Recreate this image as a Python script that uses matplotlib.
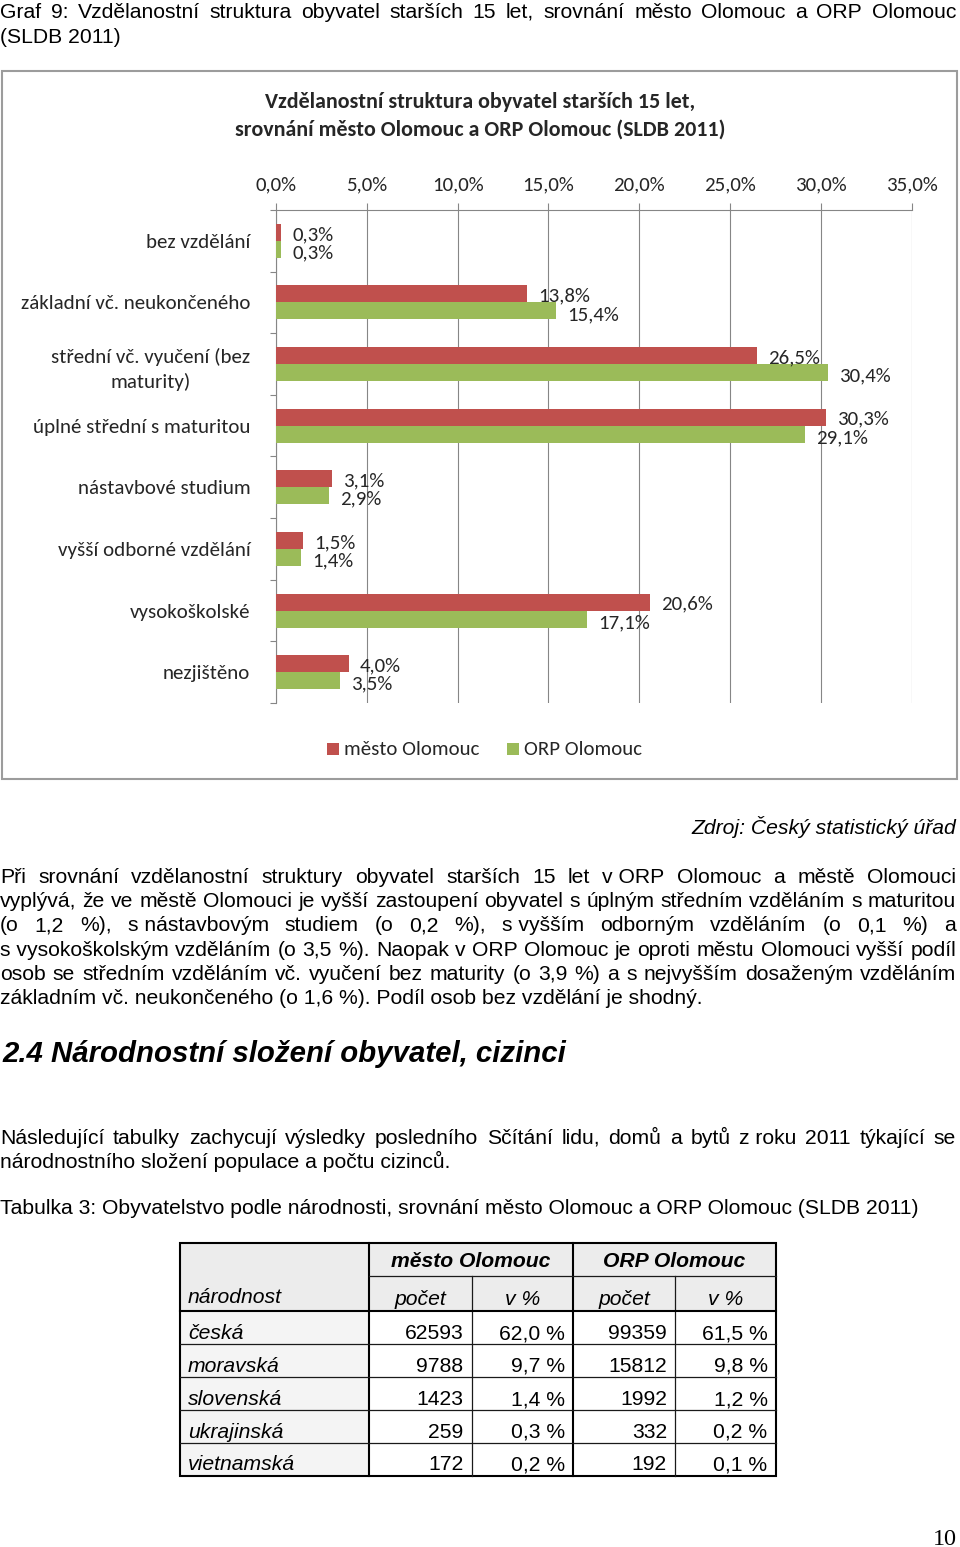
import matplotlib
matplotlib.use("Agg")
import matplotlib.pyplot as plt
from matplotlib.font_manager import FontProperties, fontManager
from matplotlib.patches import Rectangle
import numpy as np

# ---------------- data ----------------
categories = ["bez vzdělání", "základní vč. neukončeného",
              "střední vč. vyučení (bez\nmaturity)", "úplné střední s maturitou",
              "nástavbové studium", "vyšší odborné vzdělání",
              "vysokoškolské", "nezjištěno"]
mesto = [0.3, 13.8, 26.5, 30.3, 3.1, 1.5, 20.6, 4.0]
orp = [0.3, 15.4, 30.4, 29.1, 2.9, 1.4, 17.1, 3.5]
series_names = ["město Olomouc", "ORP Olomouc"]
x_ticks = [0, 5, 10, 15, 20, 25, 30, 35]

nat_names = ["česká", "moravská", "slovenská", "ukrajinská", "vietnamská"]
mesto_pocet = [62593, 9788, 1423, 259, 172]
mesto_pct = [62.0, 9.7, 1.4, 0.3, 0.2]
orp_pocet = [99359, 15812, 1992, 332, 192]
orp_pct = [61.5, 9.8, 1.2, 0.2, 0.1]

chart_title = ["Vzdělanostní struktura obyvatel starších 15 let,",
               "srovnání město Olomouc a ORP Olomouc (SLDB 2011)"]

# ---------------- setup ----------------
W, H = 960, 1547
fig = plt.figure(figsize=(W / 100, H / 100), dpi=100)
renderer = fig.canvas.get_renderer()
names = {f.name for f in fontManager.ttflist}
CF = "Carlito" if "Carlito" in names else "Lato"
BF = "Liberation Sans"
SF = "Liberation Serif"

RED = "#C0504D"
GREEN = "#9BBB59"
GRID = "#868686"
TXT = "#262626"


def fprop(family, size=20, weight="normal", style="normal"):
    return FontProperties(family=family, size=size, weight=weight, style=style)


def wpx(s, prop):
    w, h, d = renderer.get_text_width_height_descent(s, prop, ismath=False)
    return w


def fit(s, target, family, weight="normal", style="normal"):
    return 20 * target / wpx(s, fprop(family, 20, weight, style))


page = fig.add_axes([0, 0, 1, 1])
page.set_xlim(0, W)
page.set_ylim(H, 0)
page.axis("off")

# font sizes fitted to reference text widths
s_body = fit("Tabulka 3: Obyvatelstvo podle národnosti, srovnání město Olomouc a ORP Olomouc (SLDB 2011)", 920, BF)
s_head = fit("2.4 Národnostní složení obyvatel, cizinci", 564, BF, "bold", "italic")
s_title = fit(chart_title[0], 430, CF, "bold")
s_cat = fit("základní vč. neukončeného", 230, CF)
s_tick = fit("0,0%", 41.3, CF)
s_leg = fit("město Olomouc", 135, CF)
s_num = fit("10", 24, SF)


def line(y, text, x0=0, x1=956, justify=True, size=None, family=BF, style="normal", weight="normal"):
    size = size or s_body
    prop = fprop(family, size, weight, style)
    if not justify:
        page.text(x0, y, text, fontproperties=prop, ha="left", va="baseline", color="black")
        return
    words = text.split(" ")
    ws = [wpx(w, prop) for w in words]
    gap = (x1 - x0 - sum(ws)) / (len(words) - 1)
    x = x0
    for w, ww in zip(words, ws):
        page.text(x, y, w, fontproperties=prop, ha="left", va="baseline", color="black")
        x += ww + gap


# ---------------- page text ----------------
line(18, "Graf 9: Vzdělanostní struktura obyvatel starších 15 let, srovnání město Olomouc a ORP Olomouc")
line(43, "(SLDB 2011)", justify=False)

page.text(956, 834, "Zdroj: Český statistický úřad", fontproperties=fprop(BF, s_body, style="italic"),
          ha="right", va="baseline", color="black")

para = ["Při srovnání vzdělanostní struktury obyvatel starších 15 let v\u00a0ORP Olomouc a městě Olomouci",
        "vyplývá, že ve městě Olomouci je vyšší zastoupení obyvatel s úplným středním vzděláním s maturitou",
        "(o 1,2 %), s\u00a0nástavbovým studiem (o 0,2 %), s\u00a0vyšším odborným vzděláním (o 0,1 %) a",
        "s\u00a0vysokoškolským vzděláním (o 3,5 %). Naopak v ORP Olomouc je oproti městu Olomouci vyšší podíl",
        "osob se středním vzděláním vč. vyučení bez maturity (o 3,9 %) a s nejvyšším dosaženým vzděláním",
        "základním vč. neukončeného (o 1,6 %). Podíl osob bez vzdělání je shodný."]
for i, t in enumerate(para):
    line(883 + i * 24.2, t, justify=(i < len(para) - 1))

page.text(2, 1062, "2.4 Národnostní složení obyvatel, cizinci",
          fontproperties=fprop(BF, s_head, "bold", "italic"), ha="left", va="baseline", color="black")

line(1144, "Následující tabulky zachycují výsledky posledního Sčítání lidu, domů a bytů z\u00a0roku 2011 týkající se")
line(1168, "národnostního složení populace a počtu cizinců.", justify=False)
line(1214, "Tabulka 3: Obyvatelstvo podle národnosti, srovnání město Olomouc a ORP Olomouc (SLDB 2011)", justify=False)

page.text(945, 1545, "10", fontproperties=fprop(SF, s_num), ha="center", va="baseline", color="black")

# ---------------- chart frame, title, legend ----------------
page.add_patch(Rectangle((2, 71), 955, 708, fill=False, ec="#9c9c9c", lw=1.5))
page.text(480, 101.7, chart_title[0], fontproperties=fprop(CF, s_title, "bold"),
          ha="center", va="center", color=TXT)
page.text(480, 130, chart_title[1], fontproperties=fprop(CF, s_title, "bold"),
          ha="center", va="center", color=TXT)

for (sx, tx), col, name in zip([(327, 344), (507, 524)], [RED, GREEN], series_names):
    page.add_patch(Rectangle((sx, 743), 12, 12, color=col, lw=0))
    page.text(tx, 749.5, name, fontproperties=fprop(CF, s_leg), ha="left", va="center", color=TXT)

# ---------------- chart axes ----------------
ax_l, ax_r, ax_t, ax_b = 276, 911.7, 210, 703
ax = fig.add_axes([ax_l / W, 1 - ax_b / H, (ax_r - ax_l) / W, (ax_b - ax_t) / H])
ax.set_xlim(0, 35)
n = len(categories)
ax.set_ylim(n - 0.5, -0.5)
pos = np.arange(n)
bh = 0.276
ax.barh(pos - bh / 2, mesto, height=bh, color=RED, zorder=3)
ax.barh(pos + bh / 2, orp, height=bh, color=GREEN, zorder=3)

ax.set_axisbelow(True)
ax.xaxis.tick_top()
ax.set_xticks(x_ticks)
ax.set_xticklabels([f"{t:.1f}%".replace(".", ",") for t in x_ticks])
ax.xaxis.grid(True, color=GRID, lw=0.8)
ax.tick_params(axis="x", which="major", top=True, bottom=False, length=5, width=0.8, color=GRID,
               pad=7, labelsize=s_tick, labelcolor=TXT)
for lab in ax.get_xticklabels():
    lab.set_fontfamily(CF)

ax.set_yticks(pos)
ax.set_yticklabels(categories, ha="right", multialignment="center", linespacing=1.48)
ax.set_yticks(np.arange(-0.5, n, 1.0), minor=True)
ax.tick_params(axis="y", which="major", length=0, pad=18.5, labelsize=s_cat, labelcolor=TXT)
ax.tick_params(axis="y", which="minor", length=4.3, width=0.8, color=GRID)
for lab in ax.get_yticklabels():
    lab.set_fontfamily(CF)

for sp in ["right", "bottom"]:
    ax.spines[sp].set_visible(False)
for sp in ["top", "left"]:
    ax.spines[sp].set_color(GRID)
    ax.spines[sp].set_linewidth(0.8)

for vals, off, dy in [(mesto, -bh / 2, -1.5), (orp, bh / 2, -2.5)]:
    for p, v in zip(pos, vals):
        ax.annotate(f"{v:.1f}%".replace(".", ","), xy=(v, p + off), xytext=(8, dy),
                    textcoords="offset points", ha="left", va="center",
                    fontsize=s_tick, family=CF, color=TXT, zorder=4)

# ---------------- table ----------------
cx = [179.5, 368.5, 471.5, 573, 675, 775.5]
ry = [1242.5, 1276, 1311, 1344, 1377, 1410, 1443, 1475.5]
page.add_patch(Rectangle((cx[0], ry[0]), cx[5] - cx[0], ry[2] - ry[0], color="#ececec", lw=0))
page.add_patch(Rectangle((cx[0], ry[2]), cx[1] - cx[0], ry[-1] - ry[2], color="#f4f4f4", lw=0))
thick, thin = 1.5, 0.9
page.add_patch(Rectangle((cx[0], ry[0]), cx[5] - cx[0], ry[-1] - ry[0], fill=False, ec="black", lw=thick))
for x in (cx[1], cx[3]):
    page.plot([x, x], [ry[0], ry[-1]], color="black", lw=thick)
for x in (cx[2], cx[4]):
    page.plot([x, x], [ry[1], ry[-1]], color="#1a1a1a", lw=thin)
page.plot([cx[1], cx[5]], [ry[1], ry[1]], color="#1a1a1a", lw=thin)
page.plot([cx[0], cx[5]], [ry[2], ry[2]], color="black", lw=thick)
for y in ry[3:-1]:
    page.plot([cx[0], cx[5]], [y, y], color="#1a1a1a", lw=thin)

it = fprop(BF, s_body, style="italic")
bi = fprop(BF, s_body, "bold", "italic")
rg = fprop(BF, s_body)
page.text((cx[1] + cx[3]) / 2, ry[1] - 9, series_names[0], fontproperties=bi, ha="center", va="baseline")
page.text((cx[3] + cx[5]) / 2, ry[1] - 9, series_names[1], fontproperties=bi, ha="center", va="baseline")
page.text(188, ry[2] - 8, "národnost", fontproperties=it, ha="left", va="baseline")
for i, h in enumerate(["počet", "v %", "počet", "v %"]):
    page.text((cx[i + 1] + cx[i + 2]) / 2, ry[2] - 6, h, fontproperties=it, ha="center", va="baseline")

for r, name in enumerate(nat_names):
    yb = ry[r + 3] - 5
    page.text(188, yb, name, fontproperties=it, ha="left", va="baseline")
    vals = [str(mesto_pocet[r]), f"{mesto_pct[r]:.1f} %".replace(".", ","),
            str(orp_pocet[r]), f"{orp_pct[r]:.1f} %".replace(".", ",")]
    for c, v in enumerate(vals):
        page.text(cx[c + 2] - 8, yb, v, fontproperties=rg, ha="right", va="baseline")

fig.savefig("out.png", dpi=100)
